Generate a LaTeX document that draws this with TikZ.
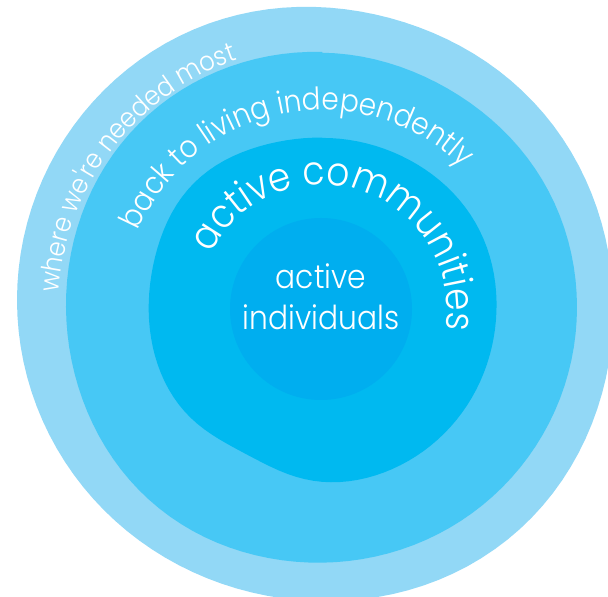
\documentclass[tikz,border=0pt]{standalone}
\usepackage{fontspec}
\newfontfamily\handfont{Poppins Light}[FakeStretch=0.9]
\usetikzlibrary{calc,decorations.text}
\definecolor{ringfar}{RGB}{146,216,246}
\definecolor{ringback}{RGB}{71,200,245}
\definecolor{ringcomm}{RGB}{0,185,240}
\definecolor{ringself}{RGB}{0,174,239}

% a soft bump: angle, centre angle, width
\pgfmathdeclarefunction{bump}{3}{\pgfmathparse{exp(-((#1-#2)/#3)*((#1-#2)/#3))}}

\tikzset{
  blob/.style={fill=#1, draw=none},
  ring/.style={domain=90:450, samples=121, variable=\t},
  arctext/.style 2 args={decorate, decoration={text along path, text align=center,
      text color=white, text={|\handfont\fontsize{#1}{#1}\selectfont|#2}}}
}

\begin{document}
\begin{tikzpicture}[x=1pt,y=1pt]
  \useasboundingbox (0,0) rectangle (608,597);
  \clip (0,0) rectangle (608,597);
  % rings, outermost first, as polar outlines round their own centres
  \begin{scope}[shift={(314,297)}]
    \fill[blob=ringfar] plot[ring]
      (\t:{297+11*bump(\t,310,40)-5*bump(\t,75,30)-5*bump(\t,435,30)}) -- cycle;
  \end{scope}
  \begin{scope}[shift={(322,290)}]
    \fill[blob=ringback] plot[ring]
      (\t:{255+4*bump(\t,135,35)+4*bump(\t,230,30)-3*bump(\t,60,25)-3*bump(\t,420,25)}) -- cycle;
  \end{scope}
  \begin{scope}[shift={(322,286)}]
    \fill[blob=ringcomm] plot[ring]
      (\t:{173+8*bump(\t,135,25)-11*bump(\t,242,22)+4*bump(\t,30,30)+4*bump(\t,390,30)}) -- cycle;
  \end{scope}
  \fill[blob=ringself] (321,288) circle (91);

  \coordinate (mid) at (322,287);
  \foreach \r/\a/\b/\s/\x in {264/181/104/27/where we're needed most,
      200/170/32/31/back to living independently,
      125/170/-26/40/active communities}
    \path[arctext={\s}{\x}] ($(mid)+(\a:\r)$) arc[start angle=\a, end angle=\b, radius=\r];

  \node[text=white, align=center, font=\handfont\fontsize{33}{41}\selectfont] (self) at (321,300)
    {active\\individuals};
\end{tikzpicture}
\end{document}
